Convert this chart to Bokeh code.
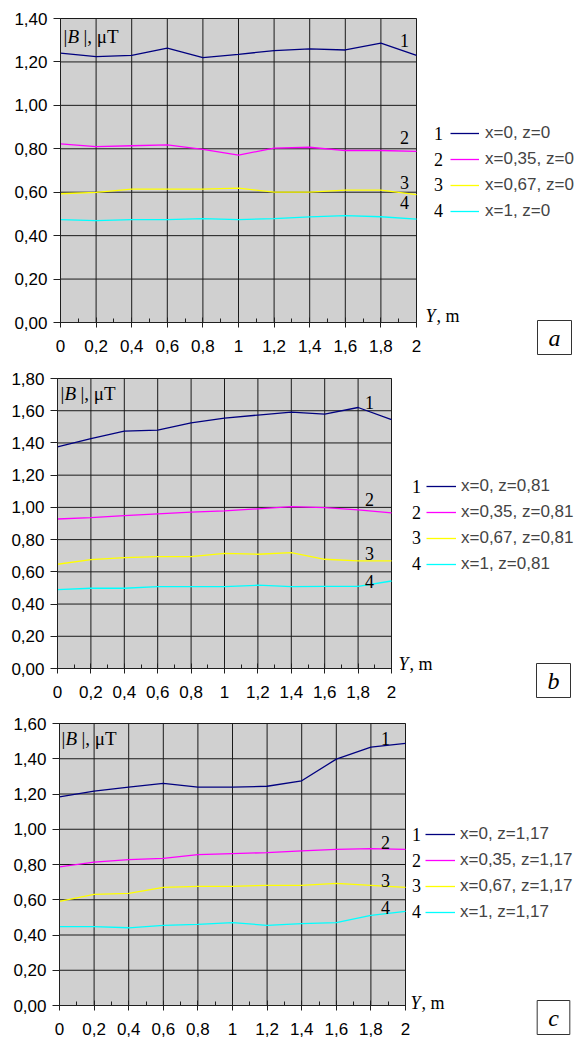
from bokeh.plotting import figure
from bokeh.models import (Range1d, FixedTicker, Label, Legend, LegendItem,
                          CustomJSTickFormatter, BoxAnnotation)
from bokeh.embed import file_html
from bokeh.resources import INLINE

# ---- data ----
Y = [0.0, 0.2, 0.4, 0.6, 0.8, 1.0, 1.2, 1.4, 1.6, 1.8, 2.0]
Y_MINOR = [0.1, 0.3, 0.5, 0.7, 0.9, 1.1, 1.3, 1.5, 1.7, 1.9]

a1 = [1.241, 1.224, 1.230, 1.264, 1.220, 1.235, 1.252, 1.260, 1.255, 1.287, 1.230]
a2 = [0.823, 0.810, 0.814, 0.818, 0.797, 0.771, 0.803, 0.807, 0.792, 0.792, 0.788]
a3 = [0.593, 0.599, 0.614, 0.614, 0.614, 0.619, 0.600, 0.600, 0.610, 0.610, 0.589]
a4 = [0.474, 0.469, 0.474, 0.474, 0.478, 0.474, 0.478, 0.486, 0.492, 0.487, 0.476]

b1 = [1.376, 1.427, 1.473, 1.480, 1.525, 1.554, 1.573, 1.591, 1.579, 1.620, 1.545]
b2 = [0.928, 0.937, 0.949, 0.960, 0.970, 0.978, 0.991, 1.005, 0.999, 0.985, 0.966]
b3 = [0.647, 0.676, 0.688, 0.694, 0.694, 0.715, 0.709, 0.719, 0.678, 0.668, 0.668]
b4 = [0.490, 0.498, 0.498, 0.508, 0.508, 0.508, 0.517, 0.508, 0.510, 0.510, 0.543]

c1 = [1.184, 1.216, 1.239, 1.260, 1.239, 1.239, 1.244, 1.275, 1.398, 1.466, 1.487]
c2 = [0.786, 0.814, 0.828, 0.835, 0.856, 0.862, 0.867, 0.877, 0.886, 0.890, 0.886]
c3 = [0.591, 0.631, 0.636, 0.670, 0.676, 0.676, 0.682, 0.682, 0.693, 0.682, 0.670]
c4 = [0.447, 0.447, 0.441, 0.455, 0.460, 0.470, 0.455, 0.464, 0.470, 0.511, 0.534]

legend_a = ["x=0, z=0", "x=0,35, z=0", "x=0,67, z=0", "x=1, z=0"]
legend_b = ["x=0, z=0,81", "x=0,35, z=0,81", "x=0,67, z=0,81", "x=1, z=0,81"]
legend_c = ["x=0, z=1,17", "x=0,35, z=1,17", "x=0,67, z=1,17", "x=1, z=1,17"]
numbers = ["1", "2", "3", "4"]
colors = ["#00007f", "#ff00ff", "#ffff00", "#00ffff"]

SANS = "Liberation Sans"
SERIF = "Liberation Serif"
GRID = "#1a1a1a"
SANS_SIZE = "17px"


def make_panel(series, labels, ymax, letter, geom):
    ftop, left, top, fw, fh, H = (geom["ftop"], geom["left"], geom["top"],
                                  geom["fw"], geom["fh"], geom["H"])
    W = 580
    # the frame covers the whole canvas; the data area is [0,2] x [0,ymax]
    x_start = -left / fw * 2.0
    x_end = (W - left) / fw * 2.0
    y_start = ymax - (ftop + H - top) / fh * ymax
    y_end = ymax + (top - ftop) / fh * ymax
    p = figure(width=W, height=H, output_backend="svg", toolbar_location=None,
               x_range=Range1d(x_start, x_end), y_range=Range1d(y_start, y_end),
               min_border_left=0, min_border_right=0,
               min_border_top=0, min_border_bottom=0)
    p.background_fill_color = "white"
    p.border_fill_color = "white"
    p.outline_line_color = None
    p.xgrid.visible = False
    p.ygrid.visible = False

    def dx(px):
        return (px - left) / fw * 2.0

    def dy(py):
        return (top + fh - py) / fh * ymax

    yticks = [round(i * 0.2, 2) for i in range(int(round(ymax / 0.2)) + 1)]

    p.add_layout(BoxAnnotation(left=0, right=2, bottom=0, top=ymax, level="underlay",
                               fill_color="#d0d0d0", fill_alpha=1.0,
                               line_color="black", line_width=1))

    p.segment(x0=Y, y0=[0] * len(Y), x1=Y, y1=[ymax] * len(Y),
              line_color=GRID, line_width=1)
    p.segment(x0=[0] * len(yticks), y0=yticks, x1=[2] * len(yticks), y1=yticks,
              line_color=GRID, line_width=1)

    xa = p.xaxis[0]
    xa.fixed_location = 0
    xa.bounds = (0, 2)
    xa.ticker = FixedTicker(ticks=Y, minor_ticks=Y_MINOR)
    xa.formatter = CustomJSTickFormatter(code="var s=(Math.round(tick*10)/10).toString(); return s.replace('.', ',');")
    xa.major_tick_in = 5
    xa.major_tick_out = 5
    xa.minor_tick_in = 4
    xa.minor_tick_out = 0
    xa.major_label_standoff = 12
    xa.major_label_text_font = SANS
    xa.major_label_text_font_size = SANS_SIZE
    xa.major_label_text_color = "black"
    xa.axis_line_color = "#202020"
    xa.major_tick_line_color = "#202020"
    xa.minor_tick_line_color = "#202020"

    ya = p.yaxis[0]
    ya.fixed_location = 0
    ya.bounds = (0, ymax)
    ya.ticker = FixedTicker(ticks=yticks)
    ya.formatter = CustomJSTickFormatter(code="return tick.toFixed(2).replace('.', ',');")
    ya.major_tick_in = 0
    ya.major_tick_out = 7
    ya.minor_tick_line_color = None
    ya.major_label_standoff = 6
    ya.major_label_text_font = SANS
    ya.major_label_text_font_size = SANS_SIZE
    ya.major_label_text_color = "black"
    ya.axis_line_color = "#202020"
    ya.major_tick_line_color = "#202020"

    items = []
    for s, c, lab in zip(series, colors, labels):
        r = p.line(Y, s, line_color=c, line_width=1.3)
        items.append(LegendItem(label=lab, renderers=[r]))

    lg = geom["legend"]
    legend_bottom = lg["y0"] - 10 + 4 * 20 + 3 * 6
    legend = Legend(items=items, location=(lg["x"], (ftop + H) - legend_bottom),
                    padding=0, margin=0, spacing=6, glyph_width=lg["gw"], glyph_height=20,
                    label_height=20, label_standoff=lg["st"],
                    label_text_font=SANS, label_text_font_size=SANS_SIZE,
                    border_line_alpha=0, background_fill_alpha=0)
    p.add_layout(legend, "center")

    def lab(px, py, text, size="18px", style="normal", align="left"):
        p.add_layout(Label(x=dx(px), y=dy(py), text=text, text_font=SERIF,
                           text_font_size=size, text_font_style=style, text_color="black",
                           text_align=align, text_baseline="middle"))

    for i, n in enumerate(numbers):
        lab(lg["nx"], lg["y0"] + i * 25.7, n, align="center")

    for (px, py), n in zip(geom["curve"], numbers):
        lab(px, py, n, align="center")

    bx, by = geom["blabel"]
    lab(bx, by, "|", size="19px")
    lab(bx + 4, by, "B", size="19px", style="italic")
    lab(bx + 20, by, "|, \u03bcT", size="19px")

    yx, yy = geom["ylabel"]
    lab(yx, yy, "Y", style="italic")
    lab(yx + 11, yy, ", m")

    lx, ly = geom["letter"]
    p.add_layout(Label(x=dx(lx), y=dy(ly), text=letter, text_font=SERIF, text_font_size="24px",
                       text_font_style="italic", text_color="black",
                       text_align="center", text_baseline="middle",
                       border_line_color="#333333", border_line_width=1,
                       background_fill_color="white", padding=(11, 4)))
    return p


geom_a = dict(ftop=0, left=60, top=18, fw=356, fh=304, H=358,
              legend=dict(x=450, y0=133, gw=29, st=6, nx=438),
              curve=[(404, 40), (404, 137), (404, 182), (404, 202)],
              blabel=(63, 36), ylabel=(425, 315), letter=(554, 337))
geom_b = dict(ftop=358, left=57, top=378, fw=334, fh=290, H=342,
              legend=dict(x=426, y0=486, gw=30, st=5, nx=416),
              curve=[(369, 402), (369, 499), (369, 553), (369, 581)],
              blabel=(60, 393), ylabel=(398, 663), letter=(553, 680))
geom_c = dict(ftop=700, left=59, top=723, fw=346, fh=282, H=341,
              legend=dict(x=425, y0=834, gw=30, st=5, nx=416),
              curve=[(385, 738), (385, 842), (385, 880), (385, 907)],
              blabel=(61, 738), ylabel=(410, 1002), letter=(553, 1017))

pa = make_panel([a1, a2, a3, a4], legend_a, 1.4, "a", geom_a)
pb = make_panel([b1, b2, b3, b4], legend_b, 1.8, "b", geom_b)
pc = make_panel([c1, c2, c3, c4], legend_c, 1.6, "c", geom_c)

open("out.html", "w").write(file_html([pa, pb, pc], INLINE))
